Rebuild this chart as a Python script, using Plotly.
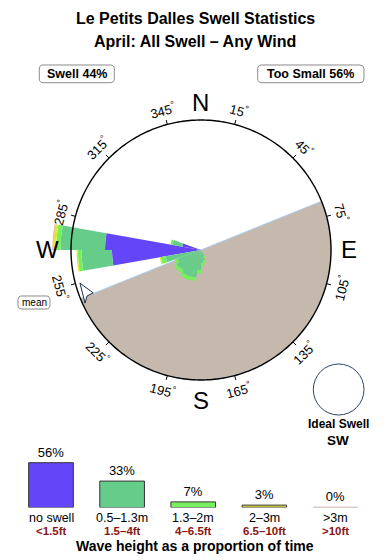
import numpy as np
import plotly.graph_objects as go

# ---------------- data ----------------
TITLE = "Le Petits Dalles Swell Statistics"
SUBTITLE = "April: All Swell – Any Wind"
swell_pct = 44
too_small_pct = 56

# direction bins (degrees, 10 deg wide)
dir_bins = [155, 165, 175, 185, 195, 205, 215, 225, 235, 245, 255, 265, 275, 285]
# radial length of each wave-height class per direction (rose units; circle = 13)
rose_no_swell = [0, 0, 0, 0, 0, 0, 0, 0, 0, 0, 0, 8.9, 9.6, 1.9]
rose_05_13 = [0.7, 1.1, 1.3, 2.0, 2.8, 2.9, 2.9, 2.7, 2.8, 2.5, 3.6, 3.05, 4.45, 1.0]
rose_13_2 = [0.2, 0.25, 0.3, 0.35, 0.35, 0.35, 0.35, 0.35, 0.3, 0.3, 0.5, 0.37, 0.44, 0.2]
rose_2_3 = [0, 0, 0, 0, 0, 0, 0, 0, 0, 0, 0.1, 0.13, 0.3, 0]
rose_gt3 = [0, 0, 0, 0, 0, 0, 0, 0, 0, 0, 0, 0, 0.08, 0]

class_names = ["no swell", "0.5–1.3m", "1.3–2m", "2–3m", "&gt;3m"]
class_feet = ["&lt;1.5ft", "1.5–4ft", "4–6.5ft", "6.5–10ft", "&gt;10ft"]
share_pct = [56, 33, 7, 3, 0.4]
share_labels = ["56%", "33%", "7%", "3%", "0%"]

land_from, land_to = 68, 248      # bearing range of land (shaded)
mean_dir = 251
ideal_label = "SW"
tick_angles = [15, 45, 75, 105, 135, 165, 195, 225, 255, 285, 315, 345]
compass = [("N", 0, 148), ("E", 90, 148), ("S", 180, 150), ("W", 270, 154)]

# ---------------- style ----------------
W, H = 390, 560
CX, CY = 201, 250
CIRCLE_R = 13.0
R_MAX = 15.0
FONT = "Liberation Sans, Arial, Helvetica, sans-serif"
class_colors = ["#6446f8", "#66cc8a", "#74f05a", "#e2e23c", "#e4a88e"]
legend_colors = ["#6446f8", "#66cc8a", "#77f060", "#c4c43a", "#cdb6ae"]
legend_lines = ["#333333", "#333333", "#333333", "#444444", "#c8b2aa"]
LAND = "#c4b9ac"
COAST = "#a9c9ea"


def px2paper(x, y):
    return x / W, 1 - y / H


def polar_px(bearing, rpx):
    a = np.radians(bearing)
    return CX + rpx * np.sin(a), CY - rpx * np.cos(a)


fig = go.Figure()

# land
fig.add_trace(go.Barpolar(
    r=[CIRCLE_R], theta=[(land_from + land_to) / 2], width=[land_to - land_from],
    base=[0], marker=dict(color=LAND, line=dict(color=COAST, width=1)),
    hoverinfo="skip", showlegend=False))

stack = np.array([rose_no_swell, rose_05_13, rose_13_2, rose_2_3, rose_gt3], dtype=float)
bases = np.vstack([np.zeros(stack.shape[1]), np.cumsum(stack, axis=0)[:-1]])
for k in range(stack.shape[0]):
    fig.add_trace(go.Barpolar(
        r=stack[k], theta=dir_bins, base=bases[k], width=[10] * len(dir_bins),
        marker=dict(color=class_colors[k], line=dict(width=0)),
        showlegend=False, hoverinfo="skip"))

# outer circle
th = np.arange(0, 361, 1)
fig.add_trace(go.Scatterpolar(r=[CIRCLE_R] * len(th), theta=th, mode="lines",
                              line=dict(color="black", width=1.4), hoverinfo="skip",
                              showlegend=False))
# ticks
tr, tt = [], []
for a in tick_angles:
    tr += [CIRCLE_R, CIRCLE_R + 0.45, None]
    tt += [a, a, None]
fig.add_trace(go.Scatterpolar(r=tr, theta=tt, mode="lines",
                              line=dict(color="black", width=1), hoverinfo="skip",
                              showlegend=False))
# mean arrow
arr_t = [mean_dir + 3.7, mean_dir - 2.7, mean_dir - 3.0, mean_dir - 5.6, mean_dir + 3.7]
arr_r = [12.55, 11.6, 12.3, 12.75, 12.55]
fig.add_trace(go.Scatterpolar(r=arr_r, theta=arr_t, mode="lines", fill="toself",
                              fillcolor="white", line=dict(color="#1f2d4d", width=1),
                              hoverinfo="skip", showlegend=False))

# legend bar chart
fig.add_trace(go.Bar(
    x=list(range(len(share_pct))), y=share_pct, width=0.628,
    marker=dict(color=legend_colors, line=dict(color=legend_lines, width=1)),
    text=share_labels, textposition="outside", cliponaxis=False,
    textfont=dict(size=13, color="black", family=FONT),
    xaxis="x2", yaxis="y2", showlegend=False, hoverinfo="skip"))

ann = []
shapes = []


def txt(x, y, s, size, bold=False, color="black", angle=0, xref="paper", pad=1):
    if bold:
        s = "<b>" + s + "</b>"
    if xref == "paper":
        px, py = px2paper(x, y)
    else:
        px, py = x, 1 - y / H
    ann.append(dict(x=px, y=py, xref=xref, yref="paper", text=s, showarrow=False,
                    xanchor="center", yanchor="middle", textangle=angle, borderpad=pad,
                    font=dict(size=size, color=color, family=FONT)))


def rrect(x0, y0, x1, y1, rad=4, color="#8a8a8a"):
    def P(x, y):
        a, b = px2paper(x, y)
        return f"{a:.5f},{b:.5f}"
    path = (f"M {P(x0 + rad, y0)} L {P(x1 - rad, y0)} Q {P(x1, y0)} {P(x1, y0 + rad)} "
            f"L {P(x1, y1 - rad)} Q {P(x1, y1)} {P(x1 - rad, y1)} "
            f"L {P(x0 + rad, y1)} Q {P(x0, y1)} {P(x0, y1 - rad)} "
            f"L {P(x0, y0 + rad)} Q {P(x0, y0)} {P(x0 + rad, y0)} Z")
    shapes.append(dict(type="path", xref="paper", yref="paper", path=path,
                       line=dict(color=color, width=1), fillcolor="white", layer="below"))


# titles
txt(195, 19, TITLE, 16, bold=True)
txt(195, 42, SUBTITLE, 16, bold=True)

# swell / too small boxes
rrect(39.3, 65, 114.3, 82.7)
rrect(257.7, 65, 364, 82.7)
txt(76.8, 74, f"Swell {swell_pct}%", 12.5, bold=True)
txt(310.8, 74, f"Too Small {too_small_pct}%", 12.5, bold=True)

# compass letters
for lab, b, rp in compass:
    x, y = polar_px(b, rp)
    txt(x, y, lab, 24)

# degree labels
for a in tick_angles:
    if a <= 90:
        ang = a
    elif a < 270:
        ang = a - 180
    else:
        ang = a - 360
    x, y = polar_px(a, 145)
    txt(x, y, f"{a}<sup>°</sup>", 13, angle=ang)

# mean label
rrect(18, 296, 50, 309, rad=4)
txt(34, 302.5, "mean", 10)

# ideal swell
x0, y0 = px2paper(313.3, 415)
x1, y1 = px2paper(364, 364)
shapes.append(dict(type="circle", xref="paper", yref="paper", x0=x0, y0=y0, x1=x1, y1=y1,
                   line=dict(color="#2e4266", width=1), fillcolor="white"))
txt(338, 423.5, "Ideal Swell", 12, bold=True)
txt(338, 440.5, ideal_label, 13.5, bold=True)

# legend labels
for i in range(len(class_names)):
    txt(i, 517.5, class_names[i], 12.5, xref="x2", pad=0)
    txt(i, 530.5, class_feet[i], 11.5, bold=True, color="#8b1414", xref="x2", pad=0)
txt(195, 545.5, "Wave height as a proportion of time", 14, bold=True, pad=0)

fig.update_layout(
    width=W, height=H, margin=dict(l=0, r=0, t=0, b=0),
    paper_bgcolor="white", plot_bgcolor="white",
    font=dict(family=FONT, color="black"),
    showlegend=False,
    polar=dict(
        domain=dict(x=[51 / W, 351 / W], y=[1 - 400 / H, 1 - 100 / H]),
        bgcolor="rgba(0,0,0,0)", barmode="overlay",
        radialaxis=dict(range=[0, R_MAX], visible=False, showgrid=False),
        angularaxis=dict(direction="clockwise", rotation=90, visible=False,
                         showgrid=False),
    ),
    xaxis2=dict(domain=[15.45 / W, 371 / W], range=[-0.5, 4.5], visible=False,
                anchor="y2", fixedrange=True),
    yaxis2=dict(domain=[1 - 507.5 / H, 1 - 447.5 / H], range=[0, 75], visible=False,
                anchor="x2", fixedrange=True),
    annotations=ann, shapes=shapes,
)

fig.write_html("out.html")
